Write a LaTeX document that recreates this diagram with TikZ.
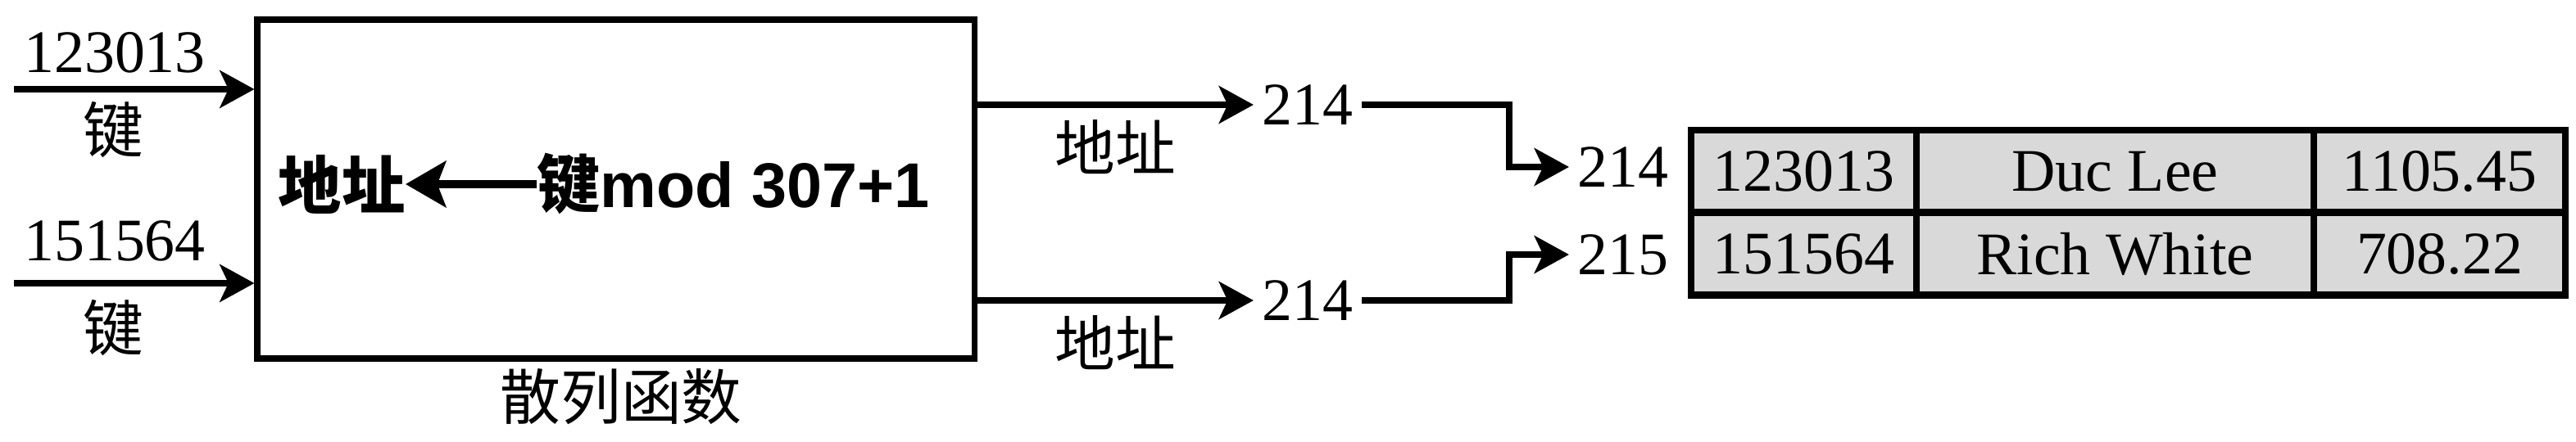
\documentclass[tikz,border=0pt]{standalone}
\usepackage{fontspec}
\setmainfont{Liberation Serif}
\newfontfamily\cjk{Noto Sans CJK SC}
\newfontfamily\rulefont{Liberation Sans}
\usetikzlibrary{arrows.meta}

\begin{document}
\begin{tikzpicture}[
  flow/.style={line width=2.4pt, -{Stealth[length=12pt, width=13pt, inset=3pt]}},
  txt/.style={font=\fontsize{21}{24}\selectfont, inner xsep=0.1cm, inner ysep=0pt},
  hanzi/.style={font=\fontsize{21}{24}\selectfont\cjk, inner sep=0pt},
  cell/.style={draw, line width=2.5pt, fill=gray!30, minimum height=1.01cm,
    inner sep=0pt, font=\fontsize{21}{24}\selectfont}
]
  \useasboundingbox (0, 0) rectangle (31.44, -5.4);

  % Hash function box
  \node[draw, line width=2pt, minimum width=8.75cm, minimum height=4.14cm] (hash) at (7.515, -2.31) {};
  \node[hanzi] (hashlab) at (7.58, -4.85) {散列函数};

  % Keys going in
  \node[txt] (key1) at (1.40, -0.64) {123013};
  \node[hanzi] (key1lab) at (1.38, -1.59) {键};
  \node[txt] (key2) at (1.40, -2.94) {151564};
  \node[hanzi] (key2lab) at (1.38, -4.01) {键};
  \coordinate (in1) at (0.17, -1.09);
  \coordinate (in2) at (0.17, -3.46);
  \draw[flow] (in1) -- (in1 -| hash.west);
  \draw[flow] (in2) -- (in2 -| hash.west);

  % The rule inside the box
  \node[inner sep=0pt, font=\fontsize{22}{26}\selectfont\cjk\bfseries] (addr) at (4.17, -2.25) {地址};
  \node[inner sep=0pt, font=\fontsize{22}{26}\selectfont\rulefont\bfseries] (rule) at (8.95, -2.25)
    {{\cjk\bfseries 键}mod 307+1};
  \draw[line width=3pt, -{Stealth[length=14pt, width=16pt, inset=3pt]}] (rule.west) -- (addr.east);

  % Addresses coming out
  \node[txt] (mid1) at (15.96, -1.28) {214};
  \node[txt] (mid2) at (15.96, -3.67) {214};
  \draw[flow] (hash.east |- mid1) -- node[hanzi, below=0.14cm] (addr1) {地址} (mid1.west);
  \draw[flow] (hash.east |- mid2) -- node[hanzi, below=0.14cm] (addr2) {地址} (mid2.west);

  % Slots in the table
  \node[txt] (dst1) at (19.81, -2.04) {214};
  \node[txt] (dst2) at (19.81, -3.11) {215};
  \coordinate (bend) at (18.42, 0);
  \draw[flow] (mid1.east) -| (bend |- dst1) -- (dst1.west);
  \draw[flow] (mid2.east) -| (bend |- dst2) -- (dst2.west);

  % Records
  \node[cell, minimum width=2.75cm] (id1) at (22.015, -2.095) {123013};
  \node[cell, minimum width=4.85cm] (name1) at (25.815, -2.095) {Duc Lee};
  \node[cell, minimum width=3.07cm] (sum1) at (29.775, -2.095) {1105.45};
  \node[cell, minimum width=2.75cm] (id2) at (22.015, -3.10) {151564};
  \node[cell, minimum width=4.85cm] (name2) at (25.815, -3.10) {Rich White};
  \node[cell, minimum width=3.07cm] (sum2) at (29.775, -3.10) {708.22};
\end{tikzpicture}
\end{document}
